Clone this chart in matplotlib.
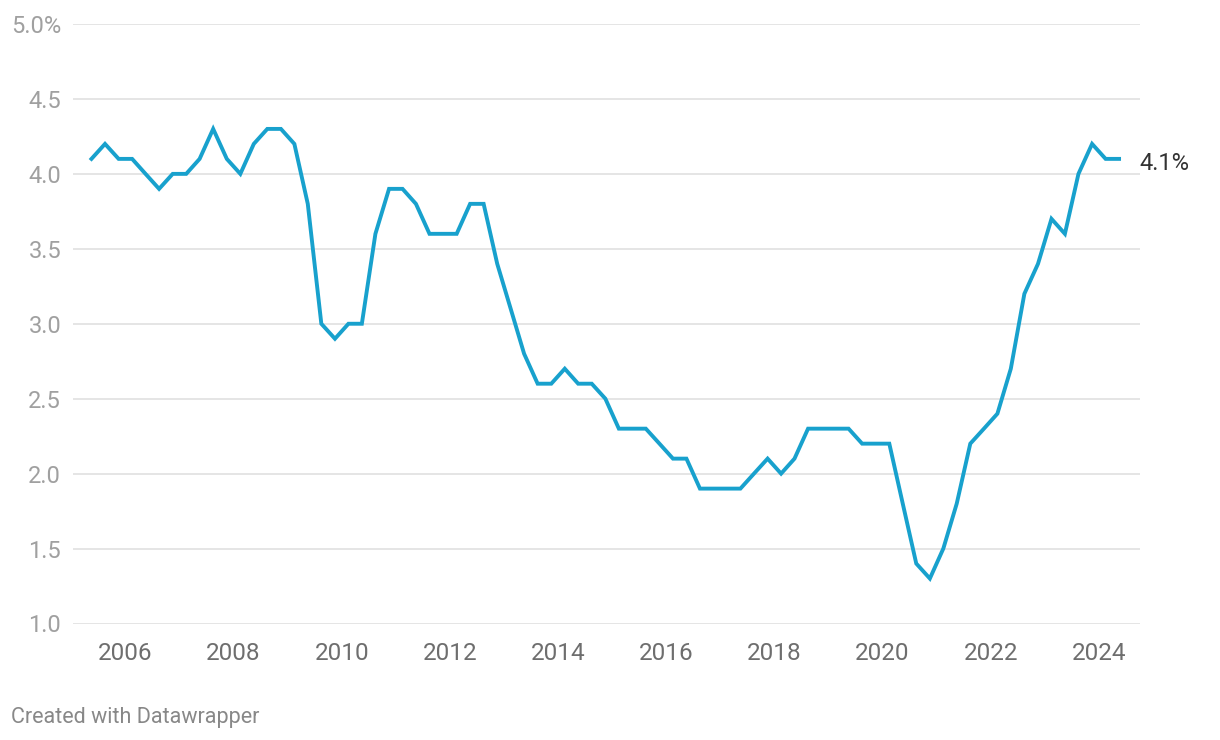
import numpy as np
import pandas as pd
import matplotlib.pyplot as plt

# quarterly values, starting 2005 Q2
start_quarter = "2005Q2"
rate = [4.1, 4.2, 4.1, 4.1, 4.0, 3.9, 4.0, 4.0, 4.1, 4.3,
        4.1, 4.0, 4.2, 4.3, 4.3, 4.2, 3.8, 3.0, 2.9, 3.0,
        3.0, 3.6, 3.9, 3.9, 3.8, 3.6, 3.6, 3.6, 3.8, 3.8,
        3.4, 3.1, 2.8, 2.6, 2.6, 2.7, 2.6, 2.6, 2.5, 2.3,
        2.3, 2.3, 2.2, 2.1, 2.1, 1.9, 1.9, 1.9, 1.9, 2.0,
        2.1, 2.0, 2.1, 2.3, 2.3, 2.3, 2.3, 2.2, 2.2, 2.2,
        1.8, 1.4, 1.3, 1.5, 1.8, 2.2, 2.3, 2.4, 2.7, 3.2,
        3.4, 3.7, 3.6, 4.0, 4.2, 4.1, 4.1]
year_ticks = [2006, 2008, 2010, 2012, 2014, 2016, 2018, 2020, 2022, 2024]
y_ticks = [1.0, 1.5, 2.0, 2.5, 3.0, 3.5, 4.0, 4.5, 5.0]

periods = pd.period_range(start_quarter, periods=len(rate), freq="Q")
# place each quarter at its middle (in days)
def to_year(ts):
    y0 = pd.Timestamp(year=ts.year, month=1, day=1)
    y1 = pd.Timestamp(year=ts.year + 1, month=1, day=1)
    return ts.year + (ts - y0) / (y1 - y0)

x = np.array([to_year(p.start_time + (p.end_time - p.start_time) / 2) for p in periods])

plt.rcParams['font.family'] = ['Roboto', 'DejaVu Sans']

fig = plt.figure(figsize=(12.2, 7.4), dpi=100)
ax = fig.add_axes([73 / 1220, 1 - 623.5 / 740, (1140 - 73) / 1220, (623.5 - 24) / 740])

for yt in y_ticks:
    ax.axhline(yt, color="#e5e5e5", lw=1.4, zorder=1)

ax.plot(x, rate, color="#18a1cd", lw=2.8, solid_joinstyle="miter", zorder=3, clip_on=False)

ax.set_xlim(2005.03, 2024.76)
ax.set_ylim(1.0, 5.0)
ax.set_xticks(year_ticks)
ax.set_xticklabels([str(y) for y in year_ticks], fontsize=17.5, color="#6e6e6e")
ax.set_yticks(y_ticks)
ylabels = ["%.1f" % v for v in y_ticks]
ylabels[-1] = ylabels[-1] + "%"
ax.set_yticklabels(ylabels, fontsize=17, color="#a0a0a0")
ax.tick_params(axis="both", length=0)
ax.tick_params(axis="x", pad=13)
ax.tick_params(axis="y", pad=8.5)
for s in ax.spines.values():
    s.set_visible(False)

# end label
ax.annotate("%.1f%%" % rate[-1], xy=(x[-1], rate[-1]), xytext=(14.5, -3.5),
            textcoords="offset points", ha="left", va="center",
            fontsize=17, color="#333333")

fig.text(11 / 1220, 1 - 717 / 740, "Created with Datawrapper", fontsize=15.5,
         color="#888888", ha="left", va="center")

fig.savefig("out.png", dpi=100)
